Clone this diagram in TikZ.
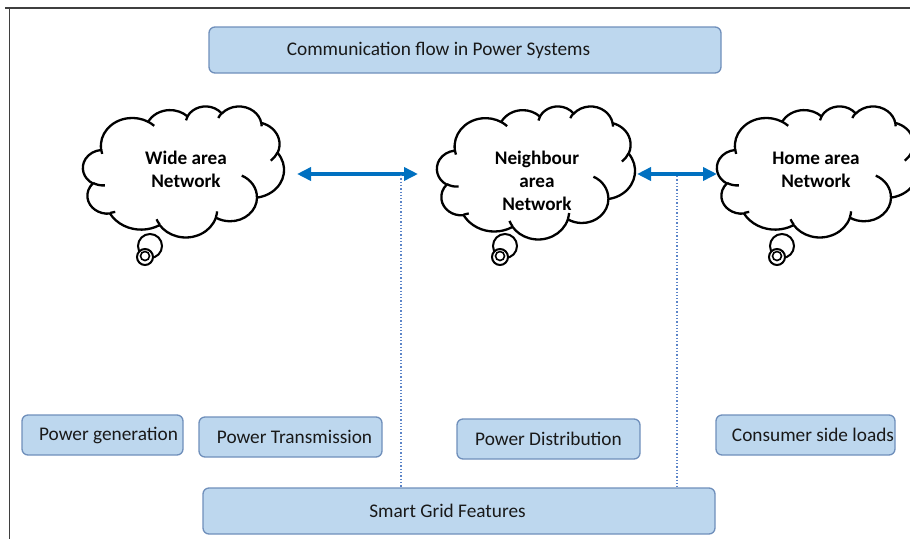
\documentclass[tikz,border=0pt]{standalone}
\usepackage{fontspec}
\setmainfont{Carlito}
\usetikzlibrary{arrows.meta}

\definecolor{boxfill}{HTML}{BDD7EE}
\definecolor{boxline}{HTML}{6F8FBB}
\definecolor{flowblue}{HTML}{0070C0}
\definecolor{dotblue}{HTML}{5B84C8}
\definecolor{framegray}{HTML}{3F3F3F}

\tikzset{
  label font/.style={font=\fontsize{19.3}{23}\selectfont},
  infobox/.style={draw=boxline, fill=boxfill, line width=1.3pt,
    rounded corners=6pt, inner sep=0pt, label font, text=black!90},
  textshift/.style={execute at begin node={\hspace*{#1}}},
  cloudtext/.style={align=center, inner sep=0pt,
    font=\fontsize{19.2}{23}\selectfont\bfseries},
  cloudline/.style={draw=black, line width=2.3pt, line join=round},
  bubble/.style={draw=black, line width=2pt, fill=white},
  biarrow/.style={draw=flowblue, line width=3.5pt,
    {Triangle[length=14pt,width=13pt]}-{Triangle[length=14pt,width=13pt]}},
  dotline/.style={draw=dotblue, line width=1.3pt, dotted},
}

% Elliptic puff: radii (wr,hr), start angle and sweep measured as seen on
% the ellipse; converted here to the parametric angles that arc[] expects.
\newcommand\puffangles[4]{%
  \pgfmathsetmacro\cldA{atan2((#1)*sin(#3),(#2)*cos(#3))}%
  \pgfmathsetmacro\cldB{atan2((#1)*sin((#3)+(#4)),(#2)*cos((#3)+(#4)))}%
  \pgfmathsetmacro\cldD{\cldB-\cldA}%
  \pgfmathsetmacro\cldD{\cldD+360*((#4)>0)*(\cldD<0)-360*((#4)<0)*(\cldD>0)}%
  \global\let\pufsa\cldA \global\let\pufda\cldD}
\newcommand\puff[4]{\pgfextra{\puffangles{#1}{#2}{#3}{#4}}
  arc[x radius=#1, y radius=#2, start angle=\pufsa, delta angle=\pufda]}

% Cloud outline in a 432 x 432 frame, placed in the box (#1,#2) of size #3 x #4
\newcommand\netcloud[4]{%
\begin{scope}[shift={(#1,#2)}, x=#3pt/432, y=-#4pt/432]
  \path[cloudline, fill=white] (39.00,143.70)
    \puff{67.53}{91.90}{-190.48748}{123.78053}
    \puff{53.33}{72.67}{-144.10238}{89.94523}
    \puff{43.65}{59.45}{-145.80792}{99.72302}
    \puff{48.57}{65.95}{-130.98607}{117.24173}
    \puff{53.33}{72.73}{-78.70888}{109.02692}
    \puff{67.75}{92.20}{-46.26725}{130.26900}
    \puff{57.85}{78.67}{0.62502}{114.03333}
    \puff{67.52}{92.15}{22.45160}{115.17255}
    \puff{77.20}{105.43}{66.24263}{75.71102}
    \puff{43.60}{59.18}{-274.94208}{146.73557}
    \puff{43.45}{59.45}{-246.82850}{152.52247}
    -- cycle;
  % inner folds of the puffs
  \path[cloudline]
    (46.93,261.77) \puff{43.45}{59.45}{86.74200}{26.42950}
    (69.28,348.99) \puff{43.60}{59.18}{73.61047}{11.44747}
    (164.78,390.90) \puff{67.52}{92.15}{137.62415}{14.08110}
    (288.27,347.51) \puff{67.52}{92.15}{6.45327}{15.99835}
    (341.29,229.54) \puff{57.85}{78.67}{-70.29235}{70.91737}
    (417.98,153.54) \puff{53.33}{72.73}{30.31803}{27.75150}
    (383.24,54.26) \puff{48.57}{65.95}{-13.74433}{14.85890}
    (290.78,39.52) \puff{48.57}{65.95}{-149.18145}{18.19537}
    (221.41,47.20) \puff{43.65}{59.45}{-163.49427}{17.68635}
    (140.00,51.92) \puff{67.53}{91.90}{-66.70695}{12.31935}
    (41.27,157.89) \puff{67.53}{91.90}{157.65435}{11.85817};
\end{scope}}

\begin{document}
\begin{tikzpicture}[x=1pt, y=-1pt]
\useasboundingbox (0,0) rectangle (910,539);
\clip (0,0) rectangle (910,539);

% outer frame (top and left edges only)
\draw[framegray, line width=1.2pt] (5,8) -- (910,8);
\draw[framegray, line width=1.2pt] (9.5,8) -- (9.5,539);

% title bar
\node[infobox, textshift=-53pt, minimum width=512pt, minimum height=46pt]
  (title) at (465,50) {Communication flow in Power Systems};

% thought-bubble tails, drawn under the clouds
\foreach \cx in {150, 505, 782} {
  \draw[bubble] (\cx,246) circle (12pt);
  \draw[bubble] (\cx-5,257) circle (8pt);
  \draw[bubble, fill=none, line width=1.6pt] (\cx-5,256) circle (4.5pt);
}

% network clouds
\netcloud{83}{106}{201}{131}
\netcloud{437}{106}{198}{133}
\netcloud{717}{106}{201}{131}
\node[cloudtext] (wan) at (186,169.5) {Wide area\\Network};
\node[cloudtext] (nan) at (537,181) {Neighbour\\area\\Network};
\node[cloudtext] (han) at (816,169.5) {Home area\\Network};

% communication links between the networks
\coordinate (l1a) at (297,174);
\coordinate (l1b) at (418,174);
\coordinate (l2a) at (637,174);
\coordinate (l2b) at (717,174);
\draw[biarrow] (l1a) -- (l1b);
\draw[biarrow] (l2a) -- (l2b);

% power system stages
\node[infobox, textshift=12pt, minimum width=161pt, minimum height=40pt]
  (gen) at (102.5,435) {Power generation};
\node[infobox, textshift=8pt, minimum width=183pt, minimum height=40pt]
  (trans) at (290.5,437) {Power Transmission};
\node[infobox, minimum width=183pt, minimum height=40pt]
  (dist) at (548.5,439) {Power Distribution};
\node[infobox, textshift=15pt, minimum width=179pt, minimum height=40pt]
  (cons) at (805.5,435) {Consumer side loads};
\node[infobox, textshift=-23pt, minimum width=512pt, minimum height=46pt]
  (sgf) at (459,511) {Smart Grid Features};

% dotted drops from the links to the feature bar
\coordinate (d1) at (401,175);
\coordinate (d2) at (677,176);
\draw[dotline] (d1) -- (d1 |- sgf.north);
\draw[dotline] (d2) -- (d2 |- sgf.north);
\end{tikzpicture}
\end{document}
